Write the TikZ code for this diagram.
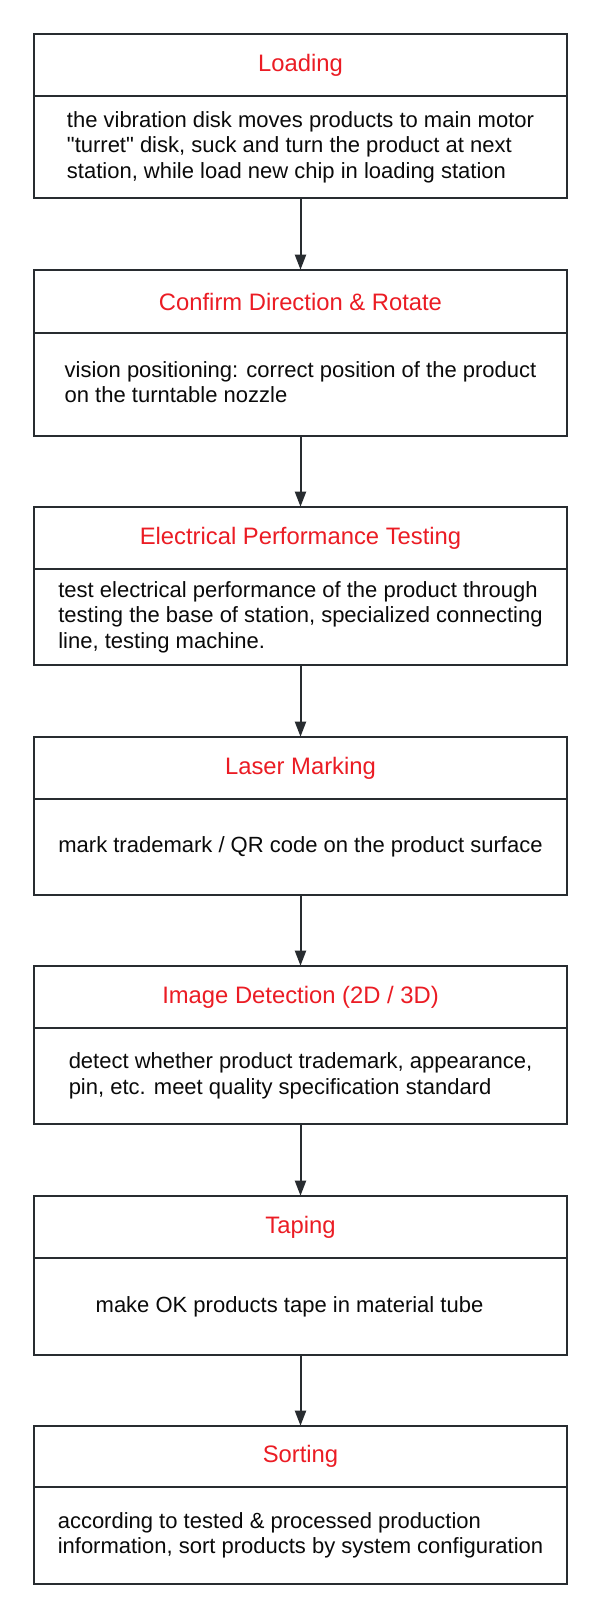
\documentclass[tikz,border=0pt]{standalone}
\usepackage{fontspec}
\setmainfont{Liberation Sans}[Ligatures=TeXOff]
\usetikzlibrary{arrows.meta}
\definecolor{hred}{RGB}{235,28,36}
\definecolor{lineclr}{RGB}{40,44,48}
\definecolor{txtclr}{RGB}{10,10,10}
\tikzset{
  headbox/.style={draw=lineclr, line width=2.6pt, minimum width=533pt, inner sep=0pt, text=hred, font=\fontsize{23.8}{28}\selectfont},
  bodybox/.style={draw=lineclr, line width=2.6pt, minimum width=533pt, inner sep=0pt, align=left, text=txtclr, font=\fontsize{22}{25.5}\selectfont},
  flow/.style={draw=lineclr, line width=2pt, -{Triangle[length=15pt,width=11pt]}, shorten >=-1pt}
}
\begin{document}
\begin{tikzpicture}[x=1pt,y=-1pt]
\useasboundingbox (0,0) rectangle (600,1617);
\fill[white] (0,0) rectangle (600,1617);
% box 1
\node[headbox, minimum height=62pt] (h1) at (300.5,65) {Loading};
\node[bodybox, minimum height=102pt] (b1) at (300.5,147) {the vibration disk moves products to main motor\\"turret" disk, suck and turn the product at next\\station, while load new chip in loading station};
% box 2
\node[headbox, minimum height=63pt] (h2) at (300.5,301.5) {Confirm Direction \& Rotate};
\node[bodybox, minimum height=103pt] (b2) at (300.5,384.5) {vision positioning: correct position of the product\\on the turntable nozzle\vphantom{g}};
% box 3
\node[headbox, minimum height=62pt] (h3) at (300.5,538) {Electrical Performance Testing};
\node[bodybox, minimum height=96pt] (b3) at (300.5,617) {test electrical performance of the product through\\testing the base of station, specialized connecting\\line, testing machine.};
% box 4
\node[headbox, minimum height=62pt] (h4) at (300.5,768) {Laser Marking};
\node[bodybox, minimum height=96pt] (b4) at (300.5,847) {mark trademark / QR code on the product surface};
% box 5
\node[headbox, minimum height=62pt] (h5) at (300.5,997) {Image Detection (2D / 3D)};
\node[bodybox, minimum height=96pt] (b5) at (300.5,1076) {detect whether product trademark, appearance,\\pin, etc. meet quality specification standard};
% box 6
\node[headbox, minimum height=62pt] (h6) at (300.5,1227) {Taping};
\node[bodybox, minimum height=97pt] (b6) at (300.5,1306.5) {\hspace*{-22pt}make OK products tape in material tube};
% box 7
\node[headbox, minimum height=61pt] (h7) at (300.5,1456.5) {Sorting};
\node[bodybox, minimum height=97pt] (b7) at (300.5,1535.5) {according to tested \& processed production\\information, sort products by system configuration};
% arrows
\draw[flow] (b1.south) -- (h2.north);
\draw[flow] (b2.south) -- (h3.north);
\draw[flow] (b3.south) -- (h4.north);
\draw[flow] (b4.south) -- (h5.north);
\draw[flow] (b5.south) -- (h6.north);
\draw[flow] (b6.south) -- (h7.north);
\end{tikzpicture}
\end{document}
